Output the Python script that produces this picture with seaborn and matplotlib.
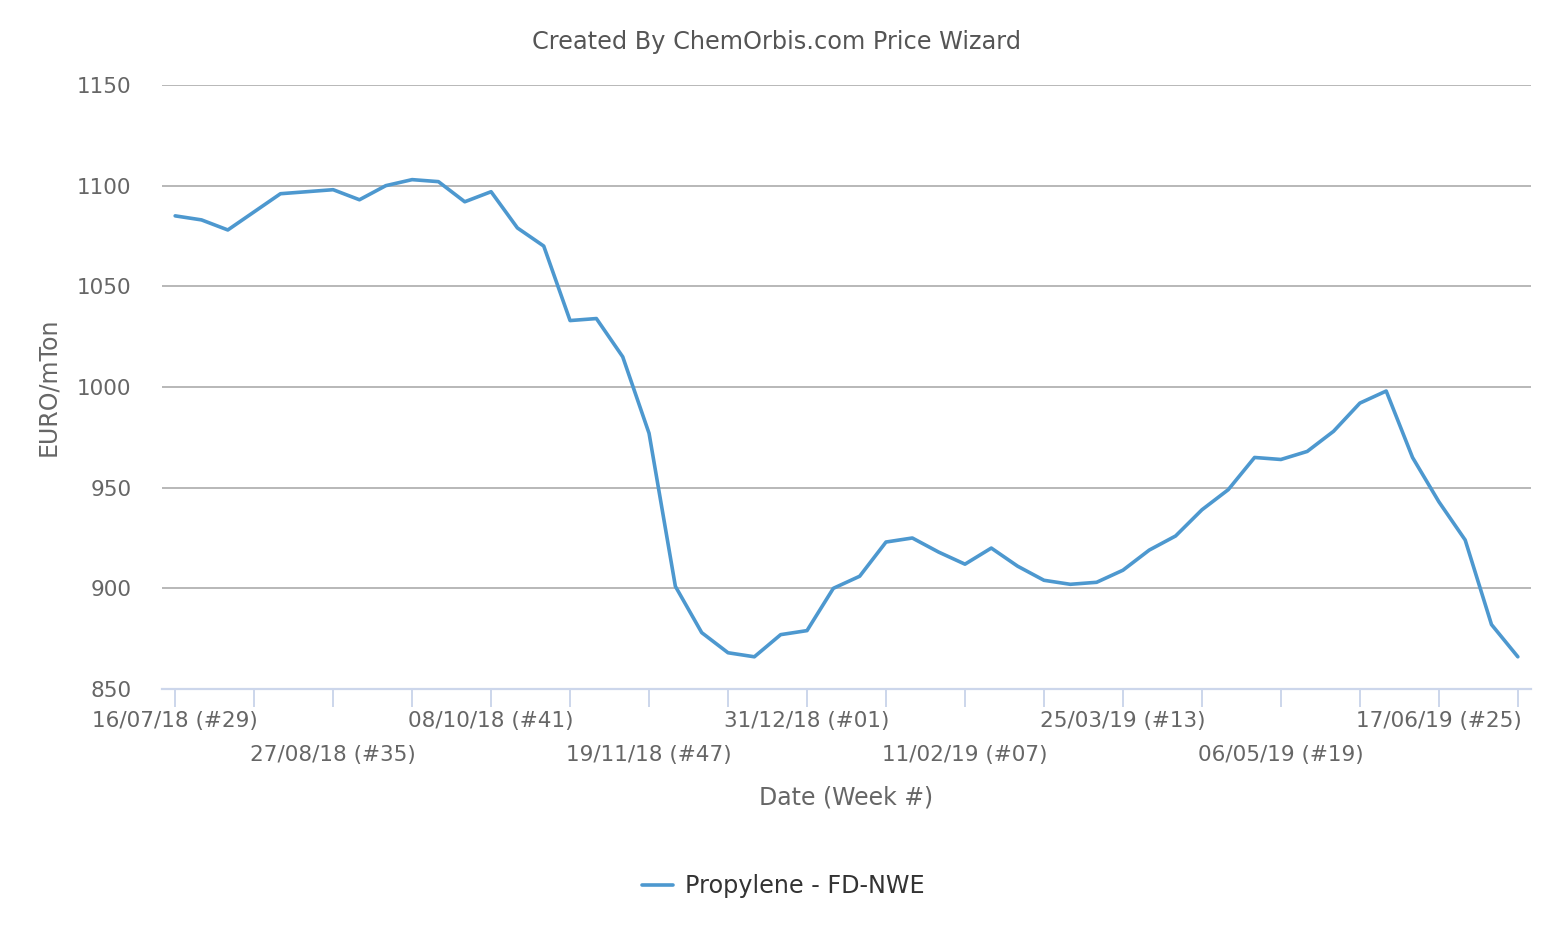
import numpy as np
import pandas as pd
import matplotlib
matplotlib.use('Agg')
import matplotlib.pyplot as plt
import matplotlib.dates as mdates
from matplotlib.ticker import FixedLocator, FixedFormatter
import seaborn as sns

# Weekly Propylene FD-NWE prices (EURO/mTon)
weeks = pd.date_range('2018-07-16', periods=52, freq='7D')
prices = [1085, 1083, 1078, 1087, 1096, 1097, 1098, 1093, 1100, 1103,
          1102, 1092, 1097, 1079, 1070, 1033, 1034, 1015, 977, 901,
          878, 868, 866, 877, 879, 900, 906, 923, 925, 918,
          912, 920, 911, 904, 902, 903, 909, 919, 926, 939,
          949, 965, 964, 968, 978, 992, 998, 965, 943, 924,
          882, 866]
series_name = 'Propylene - FD-NWE'
y_ticks = [850, 900, 950, 1000, 1050, 1100, 1150]

df = pd.DataFrame({'Date': weeks, 'Price': prices, 'Series': series_name})

LINE_COLOR = '#4d98cf'
GRID_COLOR = '#b8b8b8'
AXIS_COLOR = '#ccd6eb'
TEXT_COLOR = '#666666'

sns.set_theme(style='white')
plt.rcParams['font.family'] = ['DejaVu Sans']

fig = plt.figure(figsize=(15.52, 9.30), dpi=100)
ax = fig.add_axes([162 / 1552, 1 - 689 / 930, 1369 / 1552, 604 / 930])

sns.lineplot(data=df, x='Date', y='Price', hue='Series', palette=[LINE_COLOR],
             linewidth=2.6, ax=ax, legend=True)

# y axis
ax.set_ylim(850, 1150)
ax.set_yticks(y_ticks)
ax.yaxis.grid(True, color=GRID_COLOR, linewidth=1.4)
ax.tick_params(axis='y', length=0, pad=22, labelsize=15.5, labelcolor=TEXT_COLOR)

# x axis: a tick every 3 weeks, labels every 6 weeks on two alternating rows
half_week = pd.Timedelta(days=3.5)
ax.set_xlim(weeks[0] - half_week, weeks[-1] + half_week)
tick_dates = weeks[::3]
tick_nums = mdates.date2num(tick_dates)


def week_label(d):
    return f"{d.strftime('%d/%m/%y')} (#{d.isocalendar()[1]:02d})"


row1_idx = list(range(0, len(tick_dates), 4))
other_idx = [i for i in range(len(tick_dates)) if i not in row1_idx]
ax.xaxis.set_major_locator(FixedLocator(tick_nums[row1_idx]))
ax.xaxis.set_major_formatter(FixedFormatter([week_label(tick_dates[i]) for i in row1_idx]))
ax.xaxis.set_minor_locator(FixedLocator(tick_nums[other_idx]))
ax.xaxis.set_minor_formatter(FixedFormatter(
    [week_label(tick_dates[i]) if i % 4 == 2 else '' for i in other_idx]))
ax.tick_params(axis='x', which='both', direction='out', length=13, width=1.4,
               color=AXIS_COLOR, labelsize=15.5, labelcolor=TEXT_COLOR, bottom=True)
ax.tick_params(axis='x', which='major', pad=3)
ax.tick_params(axis='x', which='minor', pad=27)

for side in ['top', 'right', 'left']:
    ax.spines[side].set_visible(False)
ax.spines['bottom'].set_color(AXIS_COLOR)
ax.spines['bottom'].set_linewidth(1.6)

# axis titles
ax.set_xlabel('Date (Week #)', fontsize=17, color=TEXT_COLOR)
ax.xaxis.set_label_coords(0.5, (689 - 797) / 604)
ax.xaxis.label.set_verticalalignment('center')
ax.set_ylabel('EURO/mTon', fontsize=17, color=TEXT_COLOR)
ax.yaxis.set_label_coords((48 - 162) / 1369, 0.5)
ax.yaxis.label.set_verticalalignment('center')

fig.suptitle('Created By ChemOrbis.com Price Wizard', fontsize=17.3, color='#555555',
             y=1 - 42 / 930, va='center')

# legend below the chart
handles, labels = ax.get_legend_handles_labels()
ax.legend_.remove()
fig.legend(handles, labels, loc='center', bbox_to_anchor=(783 / 1552, 1 - 886 / 930),
           frameon=False, fontsize=17.2, labelcolor='#333333',
           handlelength=1.3, handletextpad=0.5)

fig.savefig('out.png', dpi=100, facecolor='white')
